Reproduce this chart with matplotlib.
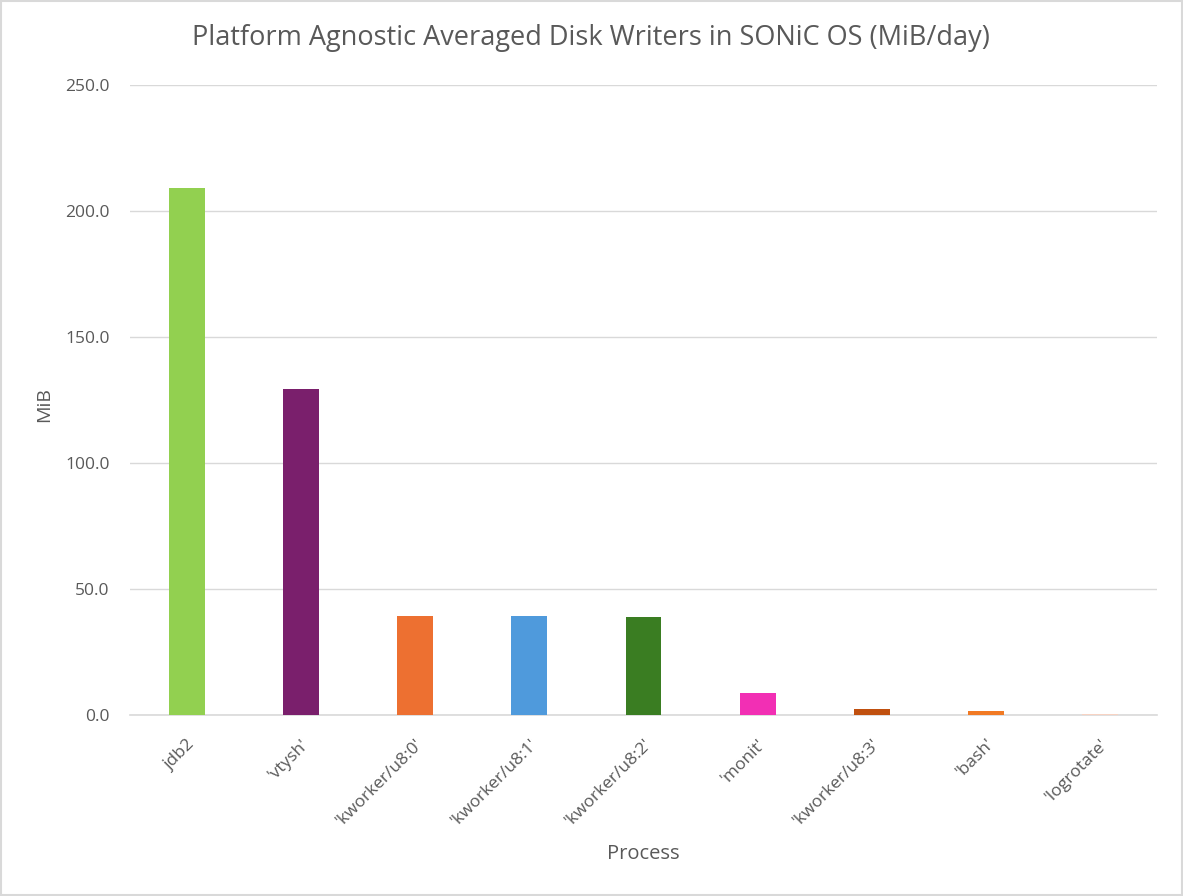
import matplotlib
matplotlib.use("Agg")
import matplotlib.pyplot as plt
from matplotlib.patches import Rectangle

processes = ["jdb2", "'vtysh'", "'kworker/u8:0'", "'kworker/u8:1'", "'kworker/u8:2'",
             "'monit'", "'kworker/u8:3'", "'bash'", "'logrotate'"]
mib_per_day = [209.1, 129.4, 39.3, 39.3, 38.9, 8.7, 2.4, 1.5, 0.5]
bar_colors = ["#92D050", "#7A1F6C", "#ED7031", "#4F9ADC", "#3A7D22",
              "#F22FB4", "#C0500F", "#F17A24", "#F8D3C3"]
yticks = [0, 50, 100, 150, 200, 250]

plt.rcParams['font.family'] = ['Open Sans', 'DejaVu Sans']
text_color = "#595959"

fig = plt.figure(figsize=(11.83, 8.96), dpi=100)
ax = fig.add_axes([130/1183, 1-715/896, 1027/1183, 630/896])

x = range(len(processes))
ax.bar(x, mib_per_day, width=0.315, color=bar_colors, zorder=3)
ax.set_xlim(-0.5, len(processes) - 0.5)
ax.set_ylim(0, 250)
ax.set_yticks(yticks)
ax.set_yticklabels([f"{v:.1f}" for v in yticks])
ax.set_xticks(list(x))
ax.set_xticklabels(processes, rotation=45, ha='right', rotation_mode='anchor')

ax.grid(axis='y', color="#D9D9D9", linewidth=1.0, zorder=0)
for s in ['top', 'right', 'left']:
    ax.spines[s].set_visible(False)
ax.spines['bottom'].set_color("#D9D9D9")
ax.spines['bottom'].set_linewidth(1.2)
ax.tick_params(axis='both', length=0, labelcolor=text_color)
ax.tick_params(axis='y', pad=14.5, labelsize=12.5)
ax.tick_params(axis='x', pad=15, labelsize=12.5)

ax.set_xlabel("Process", fontsize=14.5, color=text_color)
ax.xaxis.set_label_coords(0.5, (715-844)/630)
ax.set_ylabel("MiB", fontsize=14, color=text_color)
ax.yaxis.set_label_coords((53-130)/1027, (715-405)/630)

fig.text(591/1183, 1-38/896, "Platform Agnostic Averaged Disk Writers in SONiC OS (MiB/day)",
         ha='center', va='center', fontsize=19.5, color=text_color)

fig.patches.append(Rectangle((0.001, 0.001), 0.998, 0.998, transform=fig.transFigure,
                             fill=False, edgecolor="#D9D9D9", linewidth=1.5))

fig.savefig("out.png", dpi=100)
